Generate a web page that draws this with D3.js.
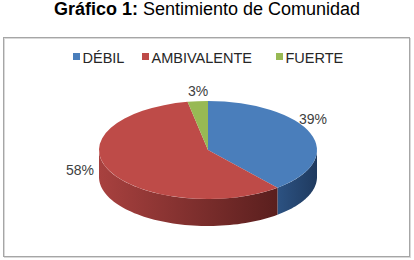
<!DOCTYPE html>
<html>
<head>
<meta charset="utf-8">
<script src="https://cdn.jsdelivr.net/npm/d3@7"></script>
<style>
  body { margin: 0; background: #fff; }
  svg { display: block; font-family: "Liberation Sans", Arial, sans-serif; }
</style>
</head>
<body>
<svg width="414" height="260"></svg>
<script>
// data
const categories = ['DÉBIL', 'AMBIVALENTE', 'FUERTE']
const values = [39, 58, 3]
const labels = ['39%', '58%', '3%']
const colors = ['#4a7ebb', '#be4b48', '#98b954']
const sideDark = ['#1f3a5f', '#5a1f1e', '#4f6a25']
const sideLight = ['#2c5282', '#a8413f', '#7a9a3a']

const svg = d3.select('svg')
const w = 414, h = 260

// title
const title = svg.append('text')
    .attr('x', w / 2)
    .attr('y', 15)
    .attr('text-anchor', 'middle')
    .style('font-size', '18px')
    .attr('fill', '#000')
title.append('tspan').attr('font-weight', 'bold').text('Gráfico 1:')
title.append('tspan').text(' Sentimiento de Comunidad')

// chart box
svg.append('rect')
    .attr('x', 4.5).attr('y', 38.5)
    .attr('width', 406).attr('height', 219)
    .attr('fill', 'none').attr('stroke', '#d9d9d9')
svg.append('rect')
    .attr('x', 3.5).attr('y', 37.5)
    .attr('width', 406).attr('height', 219)
    .attr('fill', 'none').attr('stroke', '#a6a6a6')

// legend
const legendX = [73, 142, 276]
const legend = svg.append('g')
categories.forEach((c, i) => {
    legend.append('rect')
        .attr('x', legendX[i]).attr('y', 53)
        .attr('width', 7).attr('height', 7)
        .attr('fill', colors[i])
    legend.append('text')
        .attr('x', legendX[i] + 9.5).attr('y', 63)
        .style('font-size', '14.5px')
        .attr('fill', '#262626')
        .text(c)
})

// pie geometry
const cx = 208, cy = 150, rx = 109, ry = 49, depth = 27
const pie = d3.pie().sort(null).value(d => d)
const arcs = pie(values)

const defs = svg.append('defs')
arcs.forEach((a, i) => {
    const g = defs.append('linearGradient')
        .attr('id', 'side' + i)
        .attr('x1', '0%').attr('x2', '100%').attr('y1', '0%').attr('y2', '0%')
    g.append('stop').attr('offset', '0%').attr('stop-color', sideLight[i])
    g.append('stop').attr('offset', '100%').attr('stop-color', sideDark[i])
})

const px = t => cx + rx * Math.sin(t)
const py = t => cy - ry * Math.cos(t)

// side walls (front half only)
const sides = svg.append('g')
arcs.forEach((a, i) => {
    const s = Math.max(a.startAngle, Math.PI / 2)
    const e = Math.min(a.endAngle, 3 * Math.PI / 2)
    if (e <= s) return
    const n = 60
    const pts = d3.range(n + 1).map(k => s + (e - s) * k / n)
    let d = 'M' + pts.map(t => px(t) + ',' + py(t)).join('L')
    d += 'L' + pts.slice().reverse().map(t => px(t) + ',' + (py(t) + depth)).join('L') + 'Z'
    sides.append('path')
        .attr('d', d)
        .attr('fill', 'url(#side' + i + ')')
})

// top faces
const arc = d3.arc().innerRadius(0).outerRadius(rx)
svg.append('g')
    .attr('transform', `translate(${cx},${cy}) scale(1,${ry / rx})`)
    .selectAll('path')
    .data(arcs)
    .enter()
    .append('path')
    .attr('d', arc)
    .attr('fill', (_, i) => colors[i])

// data labels
const labelPos = [[313, 124], [80, 175], [198, 96]]
labels.forEach((l, i) => {
    svg.append('text')
        .attr('x', labelPos[i][0]).attr('y', labelPos[i][1])
        .attr('text-anchor', 'middle')
        .style('font-size', '14px')
        .attr('fill', '#404040')
        .text(l)
})
</script>
</body>
</html>
